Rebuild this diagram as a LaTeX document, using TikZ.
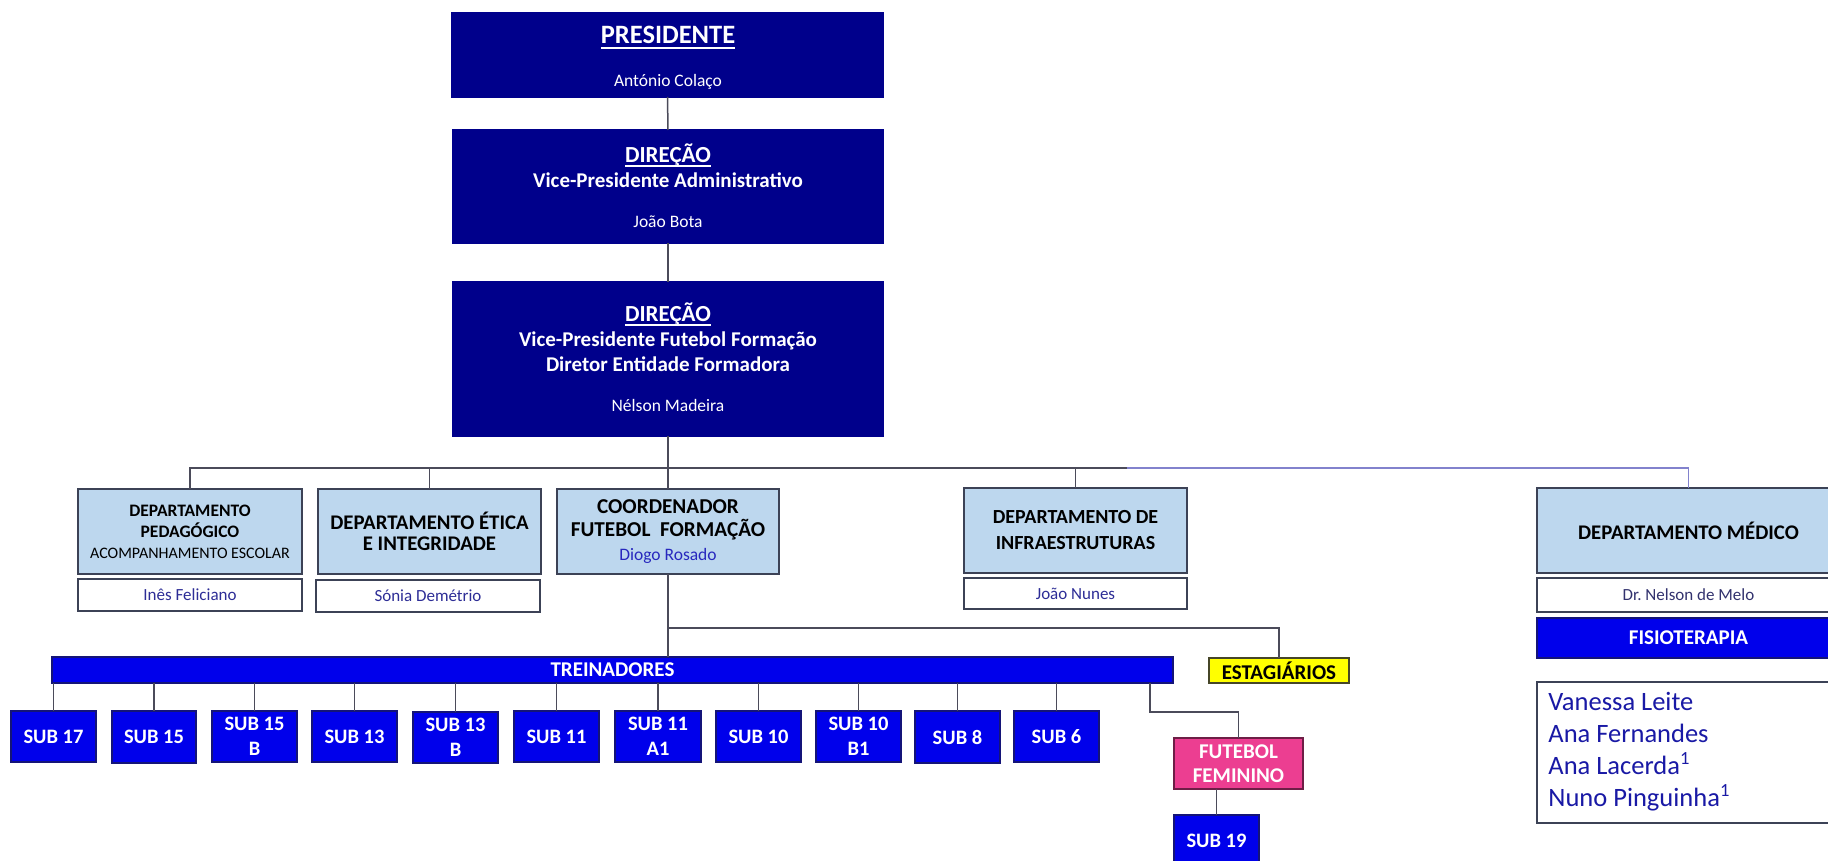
\documentclass[tikz,border=0pt]{standalone}
\usepackage{fontspec}
\setmainfont{Carlito}
\frenchspacing
\definecolor{navy}{RGB}{0,0,139}
\definecolor{lightb}{RGB}{189,215,238}
\definecolor{bord}{RGB}{60,66,86}
\definecolor{subblue}{RGB}{0,0,235}
\definecolor{subbord}{RGB}{20,20,120}
\definecolor{linec}{RGB}{75,75,90}
\definecolor{busblue}{RGB}{130,130,205}
\definecolor{nametxt}{RGB}{45,45,150}
\definecolor{drtxt}{RGB}{50,50,110}
\definecolor{diogo}{RGB}{40,40,190}
\definecolor{listc}{RGB}{25,25,165}
\definecolor{pink}{RGB}{236,62,145}
\definecolor{pinkbord}{RGB}{110,30,70}
\definecolor{yel}{RGB}{255,255,0}
\definecolor{estbord}{RGB}{70,70,40}
\newcommand{\orgbox}[7]{\node[#6, minimum width={(#4-#2)*0.5pt}, minimum height={(#5-#3)*0.5pt}] (#1) at ({(#2+#4)/2},{(#3+#5)/2}) {#7};}
\newcommand{\myul}[1]{\leavevmode\setbox0=\hbox{#1}\rlap{\rule[-0.17em]{\wd0}{0.07em}}\box0}
\begin{document}
\frenchspacing
\begin{tikzpicture}[x=0.5pt,y=-0.5pt,
  box/.style={rectangle, inner sep=0pt, outer sep=0pt, align=center, line width=0.6pt},
  navybox/.style={box, fill=navy, draw=navy},
  toptxt/.style={anchor=base, inner sep=0pt, outer sep=0pt, text=white},
  lightbox/.style={box, fill=lightb, draw=bord, text=black},
  namebox/.style={box, fill=white, draw=bord, text=nametxt, font=\fontsize{8.5pt}{10pt}\selectfont},
  subbox/.style={box, fill=subblue, draw=subbord, text=white, font=\bfseries\fontsize{10.25pt}{12.5pt}\selectfont},
  conn/.style={draw=linec, line width=0.75pt}]
\useasboundingbox (0,0) rectangle (1828,861);
\clip (0,0) rectangle (1828,861);
\fill[white] (0,0) rectangle (1828,861);

% top boxes
\orgbox{pres}{452}{13}{883}{97}{navybox}{}
\orgbox{dirA}{453}{130}{883}{243}{navybox}{}
\orgbox{dirB}{453}{282}{883}{436}{navybox}{}
\node[toptxt, font=\bfseries\fontsize{13.25pt}{14pt}\selectfont] (presT) at (668,44) {\myul{PRESIDENTE}};
\node[toptxt, font=\fontsize{8.75pt}{10pt}\selectfont] (presN) at (668,87) {António Colaço};
\node[toptxt, font=\bfseries\fontsize{11.5pt}{13pt}\selectfont] (dirAT) at (668,163) {\myul{DIREÇÃO}};
\node[toptxt, font=\bfseries\fontsize{10.5pt}{12pt}\selectfont] (dirAR) at (668,188) {Vice-Presidente Administrativo};
\node[toptxt, font=\fontsize{8.75pt}{10pt}\selectfont] (dirAN) at (668,228) {João Bota};
\node[toptxt, font=\bfseries\fontsize{11.5pt}{13pt}\selectfont] (dirBT) at (668,322) {\myul{DIREÇÃO}};
\node[toptxt, font=\bfseries\fontsize{10.5pt}{12pt}\selectfont] (dirBR1) at (668,347) {Vice-Presidente Futebol Formação};
\node[toptxt, font=\bfseries\fontsize{10.5pt}{12pt}\selectfont] (dirBR2) at (668,372) {Diretor Entidade Formadora};
\node[toptxt, font=\fontsize{8.75pt}{10pt}\selectfont] (dirBN) at (668,412) {Nélson Madeira};

% departments
\orgbox{ped}{78}{489}{302}{574}{lightbox, font=\bfseries\fontsize{8.75pt}{10.5pt}\selectfont}{DEPARTAMENTO\\PEDAGÓGICO\\\mdseries\fontsize{8pt}{10.5pt}\selectfont ACOMPANHAMENTO ESCOLAR}
\orgbox{pedN}{78}{579}{302}{611}{namebox}{Inês Feliciano}
\orgbox{etica}{318}{489}{541}{574}{lightbox, font=\bfseries\fontsize{10.4pt}{10.5pt}\selectfont}{DEPARTAMENTO ÉTICA\\E INTEGRIDADE}
\orgbox{eticaN}{316}{580}{540}{612}{namebox}{Sónia Demétrio}
\orgbox{coord}{557}{489}{779}{574}{lightbox, font=\bfseries\fontsize{10.6pt}{11.75pt}\selectfont}{COORDENADOR\\FUTEBOL~ FORMAÇÃO\\\mdseries\fontsize{8.75pt}{11pt}\selectfont\color{diogo}Diogo Rosado}
\orgbox{infra}{964}{488}{1187}{573}{lightbox, font=\bfseries\fontsize{10pt}{13pt}\selectfont}{DEPARTAMENTO DE\\INFRAESTRUTURAS}
\orgbox{infraN}{964}{578}{1187}{609}{namebox}{João Nunes}
\orgbox{med}{1537}{488}{1840}{573}{lightbox, font=\bfseries\fontsize{10.4pt}{11pt}\selectfont}{DEPARTAMENTO MÉDICO}
\orgbox{medN}{1537}{578}{1840}{612}{namebox, text=drtxt}{Dr. Nelson de Melo}
\orgbox{fisio}{1537}{618}{1840}{658}{subbox, font=\bfseries\fontsize{10.5pt}{11pt}\selectfont}{FISIOTERAPIA}
\orgbox{fnames}{1537}{682}{1840}{823}{namebox}{}
\node[anchor=west, align=left, inner sep=0pt, text=listc, font=\fontsize{13.25pt}{16pt}\selectfont] (flist) at (1548,752) {Vanessa Leite\\Ana Fernandes\\Ana Lacerda\textsuperscript{1}\\Nuno Pinguinha\textsuperscript{1}};

% trainers
\orgbox{trein}{52}{657}{1173}{683}{subbox, font=\bfseries\fontsize{10.5pt}{11pt}\selectfont}{TREINADORES}
\orgbox{estag}{1209}{658}{1349}{683}{box, fill=yel, draw=estbord, font=\bfseries\fontsize{10.5pt}{11pt}\selectfont}{ESTAGIÁRIOS}
\orgbox{s17}{11}{711}{96}{762}{subbox}{SUB 17}
\orgbox{s15}{112}{711}{196}{763}{subbox}{SUB 15}
\orgbox{s15b}{212}{711}{297}{762}{subbox}{SUB 15\\B}
\orgbox{s13}{312}{711}{397}{762}{subbox}{SUB 13}
\orgbox{s13b}{413}{712}{498}{763}{subbox}{SUB 13\\B}
\orgbox{s11}{514}{711}{599}{762}{subbox}{SUB 11}
\orgbox{s11a}{615}{711}{701}{762}{subbox}{SUB 11\\A1}
\orgbox{s10}{716}{711}{801}{762}{subbox}{SUB 10}
\orgbox{s10b}{816}{711}{901}{762}{subbox}{SUB 10\\B1}
\orgbox{s8}{915}{711}{1000}{763}{subbox}{SUB 8}
\orgbox{s6}{1014}{711}{1099}{762}{subbox}{SUB 6}
\orgbox{ff}{1174}{738}{1303}{789}{box, fill=pink, draw=pinkbord, text=white, font=\bfseries\fontsize{10.5pt}{12pt}\selectfont}{FUTEBOL\\FEMININO}
\orgbox{s19}{1174}{815}{1259}{866}{subbox}{SUB 19}

% connectors
\draw[conn] (pres.south) -- (dirA.north);
\draw[conn] (dirA.south) -- (dirB.north);
\draw[conn] (dirB.south) -- (coord.north);
\coordinate (busmix) at (1127,468);
\draw[conn] (ped.north) |- (busmix);
\draw[conn, draw=busblue] (busmix) -| (med.north);
\draw[conn] (etica.north) -- (etica.north |- busmix);
\draw[conn] (infra.north) -- (infra.north |- busmix);
\draw[conn] (coord.south) -- (coord.south |- trein.north);
\coordinate (estj) at (668,628);
\draw[conn] (estj) -| (estag.north);
\foreach \s in {s17,s15,s15b,s13,s13b,s11,s11a,s10,s10b,s8,s6}
  \draw[conn] (\s.north) -- (\s.north |- trein.south);
\coordinate (ffk) at (1150,712);
\draw[conn] (ffk |- trein.south) -- (ffk) -| (ff.north);
\draw[conn] (s19.north) -- (s19.north |- ff.south);
\end{tikzpicture}
\end{document}
